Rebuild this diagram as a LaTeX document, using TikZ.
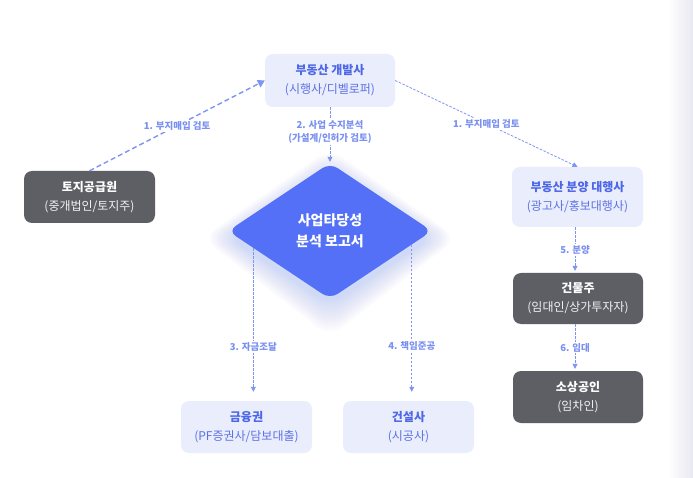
\documentclass[tikz,border=0pt]{standalone}
\usepackage{fontspec}
\setmainfont{Noto Sans CJK KR}
\usetikzlibrary{arrows.meta,shapes.geometric,calc}
\definecolor{lbox}{HTML}{EAEDFC}
\definecolor{dbox}{HTML}{5E5F65}
\definecolor{blueT}{HTML}{4D67E6}
\definecolor{blueS}{HTML}{5B72E4}
\definecolor{diac}{HTML}{5370F6}
\definecolor{conn}{HTML}{7F95F2}
\definecolor{edgegray}{HTML}{E8E8F0}
\tikzset{
  base/.style={rectangle, rounded corners=8pt, minimum width=131pt, minimum height=52pt, inner sep=0pt, align=center, font=\fontsize{12}{19}\selectfont},
  lightbox/.style={base, fill=lbox, text=blueS},
  darkbox/.style={base, fill=dbox, text=white!92!dbox},
  lbl/.style={fill=white, text=conn!90!blueT, font=\bfseries\fontsize{9.5}{13}\selectfont, inner sep=1.5pt, align=center},
  thickconn/.style={draw=conn, line width=1.4pt, dash pattern=on 5pt off 3pt, -{Triangle[length=7pt,width=8pt]}},
  thinconn/.style={draw=conn, line width=0.8pt, dash pattern=on 2.5pt off 1.5pt, -{Triangle[length=5pt,width=5pt]}},
}
\begin{document}
\begin{tikzpicture}[x=1pt,y=-1pt]
\useasboundingbox (0,0) rectangle (693,478);
\fill[white] (0,0) rectangle (693,478);
\shade[left color=white, right color=edgegray] (668,0) rectangle (693,478);
% glow
\foreach \i in {1,...,16}{
  \fill[diac, opacity=0.014, rounded corners=16pt] ({330},{174-1.6*\i}) -- ({429+1.8*\i},{238}) -- ({330},{302+2.2*\i}) -- ({231-1.8*\i},{238}) -- cycle;
}
\node[diamond, fill=diac, minimum width=204pt, minimum height=136pt, inner sep=0pt, rounded corners=9pt, text=white, align=center, font=\bfseries\fontsize{14}{21}\selectfont] (report) at (330,231) {사업타당성\\분석 보고서};

\node[lightbox, minimum width=130pt, minimum height=53pt] (dev) at (330,80.5) {\textbf{\textcolor{blueT}{부동산 개발사}}\\(시행사/디벨로퍼)};
\node[darkbox] (land) at (89.5,197) {\textbf{\textcolor{white}{토지공급원}}\\(중개법인/토지주)};
\node[lightbox, minimum height=60pt] (dist) at (577.5,197) {\textbf{\textcolor{blueT}{부동산 분양 대행사}}\\(광고사/홍보대행사)};
\node[darkbox, minimum width=130pt, minimum height=51pt] (owner) at (578,298.5) {\textbf{\textcolor{white}{건물주}}\\(임대인/상가투자자)};
\node[darkbox, minimum width=130pt] (tenant) at (578,397) {\textbf{\textcolor{white}{소상공인}}\\(임차인)};
\node[lightbox] (fin) at (246.5,427) {\textbf{\textcolor{blueT}{금융권}}\\(PF증권사/담보대출)};
\node[lightbox] (con) at (408.5,427) {\textbf{\textcolor{blueT}{건설사}}\\(시공사)};

\draw[thickconn] (land.north) -- (dev.west) node[lbl, midway] {1. 부지매입 검토};
\draw[thinconn] (dev.east) -- (dist.north) node[lbl, midway] {1. 부지매입 검토};
\draw[thinconn, shorten >=1pt] (dev.south) -- (report.north) node[lbl, pos=0.45] {2. 사업 수지분석\\(가설계/인허가 검토)};
\coordinate (s3) at ($(report.west)!0.25!(report.south)$);
\coordinate (s4) at ($(report.east)!0.2!(report.south)$);
\draw[thinconn, shorten >=9pt] (s3) -- (s3 |- fin.north) node[lbl, pos=0.65] {3. 자금조달};
\draw[thinconn, shorten >=9pt] (s4) -- (s4 |- con.north) node[lbl, pos=0.65] {4. 책임준공};
\draw[thinconn, shorten >=2pt] ([xshift=-2.5pt]dist.south) -- ([xshift=-3pt]owner.north) node[lbl, midway] {5. 분양};
\draw[thinconn, shorten >=2pt] ([xshift=-3pt]owner.south) -- ([xshift=-3pt]tenant.north) node[lbl, midway] {6. 임대};
\end{tikzpicture}
\end{document}
